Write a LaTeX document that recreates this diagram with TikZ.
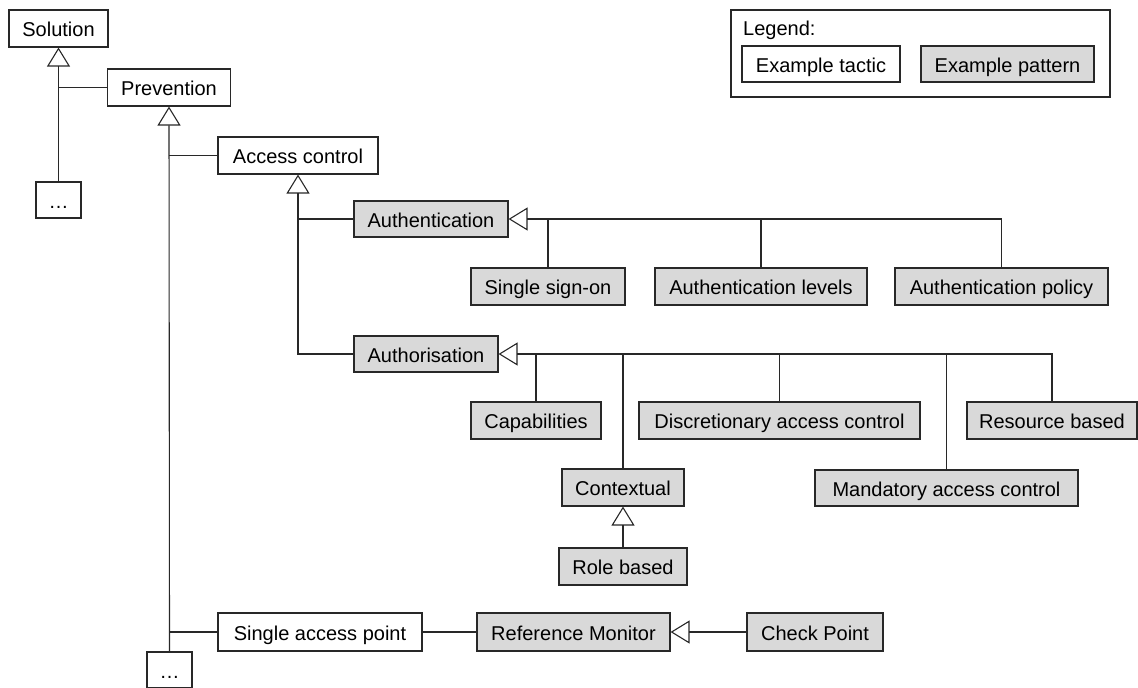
\documentclass[tikz,border=0pt]{standalone}
\usepackage{fontspec}
\setmainfont{Liberation Sans}
\usetikzlibrary{arrows.meta}
\definecolor{patfill}{RGB}{217,217,217}
\definecolor{ink}{RGB}{40,40,40}
\begin{document}
\begin{tikzpicture}[x=1pt,y=-1pt,
  boxbase/.style={draw=ink, line width=1.1pt, inner sep=0pt, minimum height=37pt,
    text height=16pt, text depth=0pt, font=\fontsize{20}{24}\selectfont, text=black},
  tacbox/.style={boxbase, fill=white},
  patbox/.style={boxbase, fill=patfill},
  conn/.style={draw=ink, line width=1.1pt},
  gen/.style={conn, -{Triangle[open, length=19pt, width=23pt]}},
]
\useasboundingbox (0,0) rectangle (1138,688);
\clip (0,0) rectangle (1138,687);

% tactics and patterns
\node[tacbox, minimum width=99pt] (solution) at (58.5,28.5) {Solution};
\node[tacbox, minimum width=45pt, minimum height=36pt] (more1) at (58.5,200) {…};
\node[tacbox, minimum width=123pt] (prevention) at (169,87.5) {Prevention};
\node[tacbox, minimum width=160pt] (access) at (298,155.5) {Access control};
\node[patbox, minimum width=154pt, minimum height=36pt] (authn) at (431,219) {Authentication};
\node[patbox, minimum width=154pt] (sso) at (548,286.5) {Single sign-on};
\node[patbox, minimum width=212pt] (levels) at (761,286.5) {Authentication levels};
\node[patbox, minimum width=213pt] (policy) at (1001.5,286.5) {Authentication policy};
\node[patbox, minimum width=144pt, minimum height=36pt] (authz) at (426,354) {Authorisation};
\node[patbox, minimum width=130pt] (capab) at (536,420.5) {Capabilities};
\node[patbox, minimum width=281pt] (dac) at (779.5,420.5) {Discretionary access control};
\node[patbox, minimum width=170pt] (resource) at (1052,420.5) {Resource based};
\node[patbox, minimum width=122pt] (context) at (623,487.5) {Contextual};
\node[patbox, minimum width=263pt, minimum height=36pt] (mac) at (946.5,488) {Mandatory access control};
\node[patbox, minimum width=128pt] (role) at (623,566.5) {Role based};
\node[tacbox, minimum width=204pt, minimum height=38pt] (sap) at (320,632) {Single access point};
\node[patbox, minimum width=193pt, minimum height=38pt] (refmon) at (573.5,632) {Reference Monitor};
\node[patbox, minimum width=136pt, minimum height=38pt] (check) at (815,632) {Check Point};
\node[tacbox, minimum width=45pt, minimum height=36pt] (more2) at (169.5,670) {…};

% legend
\node[draw=ink, line width=1.1pt, minimum width=379pt, minimum height=87pt, inner sep=0pt] (legend) at (920.5,53.5) {};
\node[anchor=base west, inner sep=0pt, font=\fontsize{20}{24}\selectfont] (legendtitle) at (743,35) {Legend:};
\node[tacbox, minimum width=158pt, minimum height=36pt] (extactic) at (821,64) {Example tactic};
\node[patbox, minimum width=173pt, minimum height=36pt] (expattern) at (1007.5,64) {Example pattern};

% generalisation hierarchy
\draw[gen] (more1.north) -- (solution.south);
\draw[conn] (prevention.west) -- (prevention.west -| solution.south);

\draw[gen] (more2.north) -- (prevention.south);
\draw[conn] (access.west) -- (access.west -| prevention.south);
\draw[conn] (sap.west) -- (sap.west -| prevention.south);

\draw[gen] (authz.west) -| (access.south);
\draw[conn] (authn.west) -- (authn.west -| access.south);

\draw[gen] (policy.north) |- (authn.east);
\draw[conn] (sso.north) -- (sso.north |- authn.east);
\draw[conn] (levels.north) -- (levels.north |- authn.east);

\draw[gen] (resource.north) |- (authz.east);
\draw[conn] (capab.north) -- (capab.north |- authz.east);
\draw[conn] (context.north) -- (context.north |- authz.east);
\draw[conn] (dac.north) -- (dac.north |- authz.east);
\draw[conn] (mac.north) -- (mac.north |- authz.east);
\draw[gen] (role.north) -- (context.south);

\draw[conn] (sap.east) -- (refmon.west);
\draw[gen] (check.west) -- (refmon.east);
\end{tikzpicture}
\end{document}
